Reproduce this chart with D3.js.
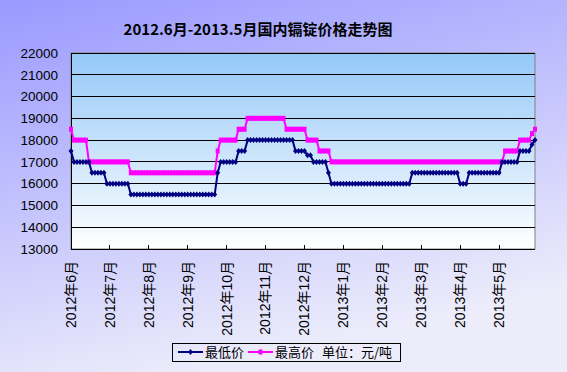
<!DOCTYPE html>
<meta charset="utf-8">
<style>
body { margin: 0; }
text { font-family: "Liberation Sans", "Noto Sans CJK SC", sans-serif; }
.cjk { font-family: "Noto Sans CJK SC", "Liberation Sans", sans-serif; }
</style>
<body>
<script src="https://d3js.org/d3.v7.min.js"></script>
<script>
var chartTitle = "2012.6月-2013.5月国内镉锭价格走势图";

var months = ["2012年6月","2012年7月","2012年8月","2012年9月","2012年10月","2012年11月",
              "2012年12月","2013年1月","2013年2月","2013年3月","2013年4月","2013年5月"];

var yTicks = [13000,14000,15000,16000,17000,18000,19000,20000,21000,22000];

// 13 quotes per month
var lowPrice = [
  17500,17000,17000,17000,17000,17000,17000,16500,16500,16500,16500,16500,16000,
  16000,16000,16000,16000,16000,16000,16000,15500,15500,15500,15500,15500,15500,
  15500,15500,15500,15500,15500,15500,15500,15500,15500,15500,15500,15500,15500,
  15500,15500,15500,15500,15500,15500,15500,15500,15500,15500,16500,17000,17000,
  17000,17000,17000,17000,17500,17500,17500,18000,18000,18000,18000,18000,18000,
  18000,18000,18000,18000,18000,18000,18000,18000,18000,18000,17500,17500,17500,
  17500,17300,17300,17000,17000,17000,17000,17000,16500,16000,16000,16000,16000,
  16000,16000,16000,16000,16000,16000,16000,16000,16000,16000,16000,16000,16000,
  16000,16000,16000,16000,16000,16000,16000,16000,16000,16000,16500,16500,16500,
  16500,16500,16500,16500,16500,16500,16500,16500,16500,16500,16500,16500,16500,
  16000,16000,16000,16500,16500,16500,16500,16500,16500,16500,16500,16500,16500,
  16500,17000,17000,17000,17000,17000,17000,17500,17500,17500,17500,17800,18000
];

var highPrice = [
  18500,18000,18000,18000,18000,18000,17000,17000,17000,17000,17000,17000,17000,
  17000,17000,17000,17000,17000,17000,17000,16500,16500,16500,16500,16500,16500,
  16500,16500,16500,16500,16500,16500,16500,16500,16500,16500,16500,16500,16500,
  16500,16500,16500,16500,16500,16500,16500,16500,16500,16500,17500,18000,18000,
  18000,18000,18000,18000,18500,18500,18500,19000,19000,19000,19000,19000,19000,
  19000,19000,19000,19000,19000,19000,19000,18500,18500,18500,18500,18500,18500,
  18500,18000,18000,18000,18000,17500,17500,17500,17500,17000,17000,17000,17000,
  17000,17000,17000,17000,17000,17000,17000,17000,17000,17000,17000,17000,17000,
  17000,17000,17000,17000,17000,17000,17000,17000,17000,17000,17000,17000,17000,
  17000,17000,17000,17000,17000,17000,17000,17000,17000,17000,17000,17000,17000,
  17000,17000,17000,17000,17000,17000,17000,17000,17000,17000,17000,17000,17000,
  17000,17000,17500,17500,17500,17500,17500,18000,18000,18000,18000,18300,18500
];

var perMonth = 13;
var width = 567, height = 372;
var plot = {left: 71, right: 535, top: 53, bottom: 249};

var svg = d3.select("body").append("svg")
    .attr("width", width)
    .attr("height", height);

var defs = svg.append("defs");
var bg = defs.append("linearGradient").attr("id", "bg")
    .attr("x1", 0).attr("y1", 0).attr("x2", 0.35).attr("y2", 1);
bg.append("stop").attr("offset", "0%").attr("stop-color", "#9999ff");
bg.append("stop").attr("offset", "100%").attr("stop-color", "#ececfb");

var pg = defs.append("linearGradient").attr("id", "pg")
    .attr("x1", 0).attr("y1", 0).attr("x2", 0).attr("y2", 1);
pg.append("stop").attr("offset", "0%").attr("stop-color", "#94c8f8");
pg.append("stop").attr("offset", "100%").attr("stop-color", "#ffffff");

svg.append("rect").attr("width", width).attr("height", height).attr("fill", "url(#bg)");

svg.append("text")
    .attr("class", "cjk")
    .attr("x", 258)
    .attr("y", 35)
    .attr("text-anchor", "middle")
    .style("font-size", "15px")
    .style("font-weight", "bold")
    .text(chartTitle);

var x = d3.scalePoint()
    .domain(d3.range(lowPrice.length))
    .range([plot.left, plot.right]);

var y = d3.scaleLinear()
    .domain([13000, 22000])
    .range([plot.bottom, plot.top]);

svg.append("rect")
    .attr("x", plot.left).attr("y", plot.top)
    .attr("width", plot.right - plot.left)
    .attr("height", plot.bottom - plot.top)
    .attr("fill", "url(#pg)")
    .attr("stroke", "#808080");

// gridlines
svg.append("g").selectAll("line")
    .data(yTicks.slice(1))
  .enter().append("line")
    .attr("x1", plot.left).attr("x2", plot.right)
    .attr("y1", function(d) { return y(d); })
    .attr("y2", function(d) { return y(d); })
    .attr("stroke", "#000")
    .attr("shape-rendering", "crispEdges");

// y axis
var yAxis = svg.append("g")
    .attr("transform", "translate(" + plot.left + ",0)")
    .call(d3.axisLeft(y).tickValues(yTicks).tickSize(0).tickPadding(13).tickFormat(d3.format("d")));
yAxis.select(".domain").attr("stroke", "#000").attr("shape-rendering", "crispEdges");
yAxis.selectAll("text")
    .style("font-size", "13.5px")
    .attr("fill", "#000")
    .attr("font-family", "Liberation Sans");

// x axis
var tickIdx = months.map(function(m, i) { return i * perMonth; });
svg.append("line")
    .attr("x1", plot.left).attr("x2", plot.right)
    .attr("y1", plot.bottom).attr("y2", plot.bottom)
    .attr("stroke", "#000")
    .attr("shape-rendering", "crispEdges");
svg.append("g").selectAll("line")
    .data(tickIdx)
  .enter().append("line")
    .attr("x1", function(d) { return x(d); })
    .attr("x2", function(d) { return x(d); })
    .attr("y1", plot.bottom).attr("y2", plot.bottom - 4)
    .attr("stroke", "#000")
    .attr("shape-rendering", "crispEdges");

svg.append("g").selectAll("text")
    .data(months)
  .enter().append("text")
    .attr("transform", function(d, i) {
      return "translate(" + x(tickIdx[i]) + ",261) rotate(-90)";
    })
    .attr("dy", "0.35em")
    .attr("text-anchor", "end")
    .style("font-size", "14px")
    .text(function(d) { return d; });

// series
var line = d3.line()
    .x(function(d, i) { return x(i); })
    .y(function(d) { return y(d); });

svg.append("path")
    .datum(highPrice)
    .attr("d", line)
    .attr("fill", "none")
    .attr("stroke", "#ff00ff")
    .attr("stroke-width", 2);

svg.append("g").selectAll("rect")
    .data(highPrice)
  .enter().append("rect")
    .attr("x", function(d, i) { return x(i) - 2; })
    .attr("y", function(d) { return y(d) - 2.5; })
    .attr("width", 4).attr("height", 5)
    .attr("fill", "#ff00ff");

svg.append("path")
    .datum(lowPrice)
    .attr("d", line)
    .attr("fill", "none")
    .attr("stroke", "#000080")
    .attr("stroke-width", 2);

svg.append("g").selectAll("path")
    .data(lowPrice)
  .enter().append("path")
    .attr("transform", function(d, i) { return "translate(" + x(i) + "," + y(d) + ")"; })
    .attr("d", "M0,-3L2.5,0L0,3L-2.5,0Z")
    .attr("fill", "#000080");

// legend
var lg = svg.append("g").attr("transform", "translate(172,343)");
lg.append("rect")
    .attr("width", 228).attr("height", 18)
    .attr("fill", "none")
    .attr("stroke", "#000")
    .attr("shape-rendering", "crispEdges");

lg.append("line").attr("x1", 6).attr("x2", 31).attr("y1", 9).attr("y2", 9)
    .attr("stroke", "#000080").attr("stroke-width", 2);
lg.append("path").attr("transform", "translate(18.5,9)")
    .attr("d", "M0,-3L2.5,0L0,3L-2.5,0Z").attr("fill", "#000080");
lg.append("text").attr("class", "cjk").attr("x", 33).attr("y", 14)
    .style("font-size", "13px").text("最低价");

lg.append("line").attr("x1", 76).attr("x2", 101).attr("y1", 9).attr("y2", 9)
    .attr("stroke", "#ff00ff").attr("stroke-width", 2);
lg.append("rect").attr("x", 86.5).attr("y", 6.5).attr("width", 4).attr("height", 5)
    .attr("fill", "#ff00ff");
lg.append("text").attr("class", "cjk").attr("x", 103).attr("y", 14)
    .style("font-size", "13px").text("最高价");

lg.append("text").attr("class", "cjk").attr("x", 150).attr("y", 14)
    .style("font-size", "13px").text("单位：元/吨");
</script>
